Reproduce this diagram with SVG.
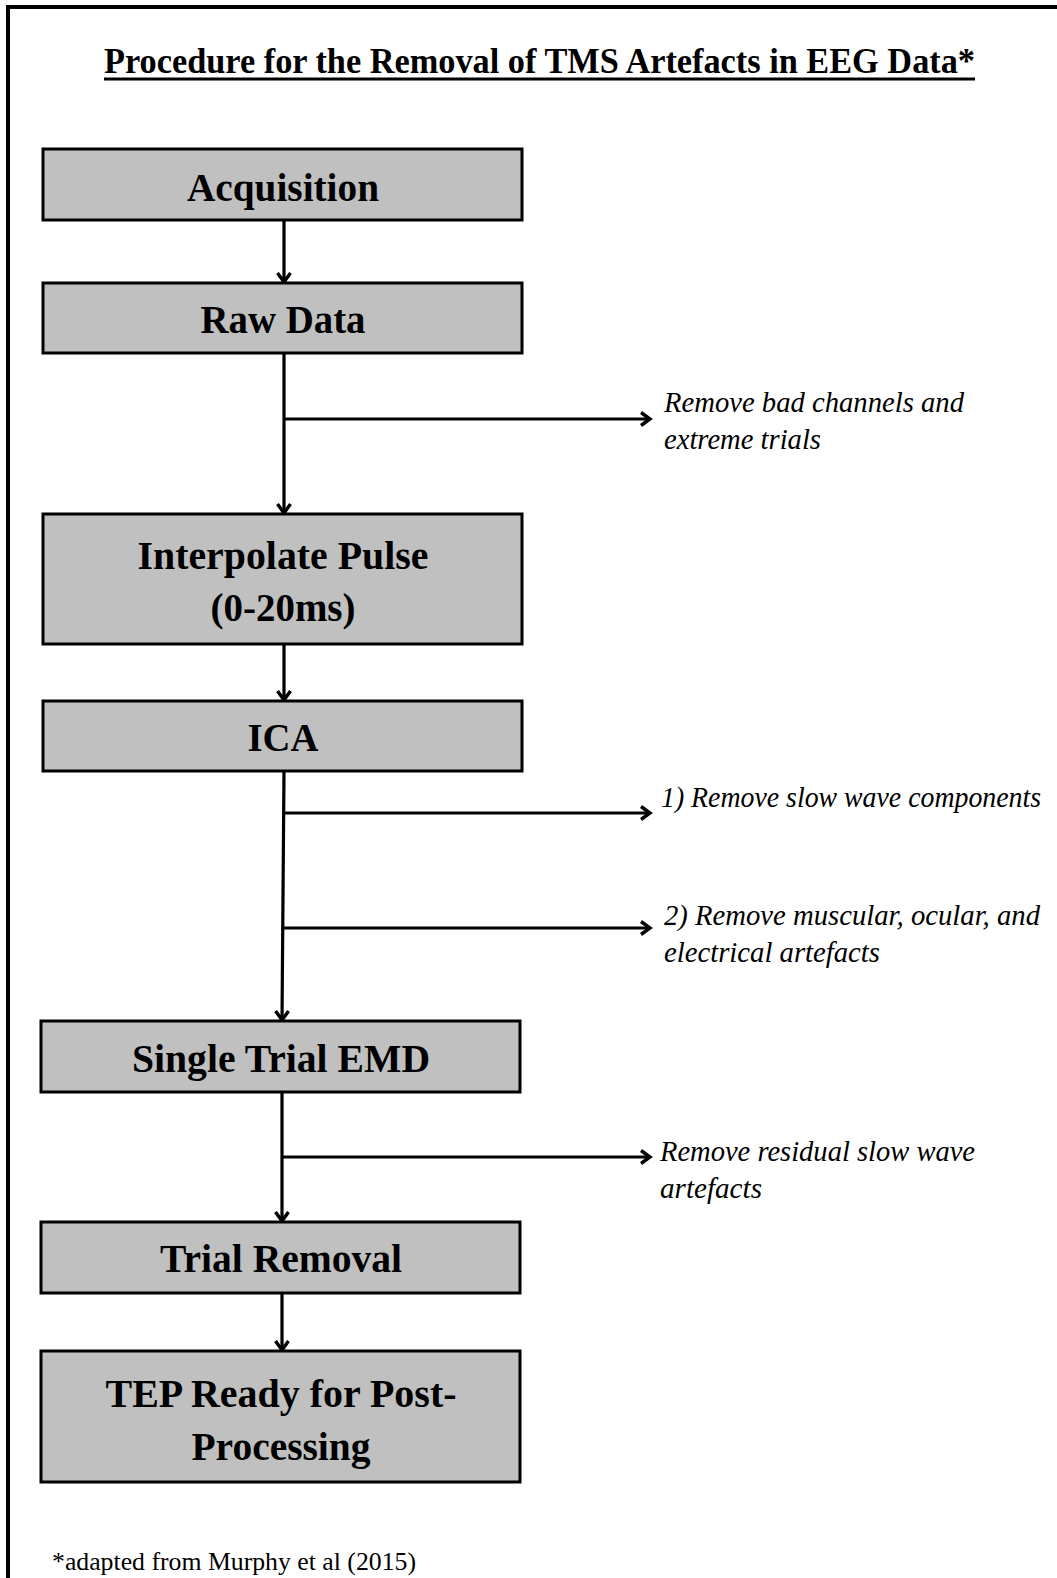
<svg xmlns="http://www.w3.org/2000/svg" width="1057" height="1578" viewBox="0 0 1057 1578">
<defs>
<style>
.box{fill:#c0c0c0;stroke:#000;stroke-width:3}
.lbl{font-family:"Liberation Serif","Times New Roman",serif;font-weight:bold;font-size:41px;fill:#000;text-anchor:middle}
.note{font-family:"Liberation Serif","Times New Roman",serif;font-style:italic;font-size:30px;fill:#000}
.ln{stroke:#000;stroke-width:3.2;fill:none}
</style>
<marker id="ah" viewBox="0 0 16 16" refX="13" refY="8" markerWidth="16" markerHeight="16" markerUnits="userSpaceOnUse" orient="auto">
<path d="M4,1.5 L13,8 L4,14.5" fill="none" stroke="#000" stroke-width="3.4"/>
</marker>
</defs>
<rect width="1057" height="1578" fill="#fff"/>
<path d="M8,1578 V7 H1057" fill="none" stroke="#000" stroke-width="4"/>
<g id="title">
<text x="104" y="73" font-family="Liberation Serif,serif" font-weight="bold" font-size="36" textLength="871" lengthAdjust="spacingAndGlyphs">Procedure for the Removal of TMS Artefacts in EEG Data*</text>
<rect x="104" y="77.5" width="871" height="3" fill="#000"/>
</g>
<g id="connectors">
<line class="ln" x1="284" y1="220" x2="284" y2="282" marker-end="url(#ah)"/>
<line class="ln" x1="284" y1="353" x2="284" y2="513" marker-end="url(#ah)"/>
<line class="ln" x1="284" y1="419" x2="650" y2="419" marker-end="url(#ah)"/>
<line class="ln" x1="284" y1="644" x2="284" y2="700" marker-end="url(#ah)"/>
<line class="ln" x1="284" y1="771" x2="282" y2="1020" marker-end="url(#ah)"/>
<line class="ln" x1="284" y1="813" x2="650" y2="813" marker-end="url(#ah)"/>
<line class="ln" x1="283" y1="928" x2="650" y2="928" marker-end="url(#ah)"/>
<line class="ln" x1="282" y1="1092" x2="282" y2="1221" marker-end="url(#ah)"/>
<line class="ln" x1="282" y1="1157" x2="650" y2="1157" marker-end="url(#ah)"/>
<line class="ln" x1="282" y1="1293" x2="282" y2="1350" marker-end="url(#ah)"/>
</g>
<g id="acquisition">
<rect class="box" x="43" y="149" width="479" height="71"/>
<text class="lbl" x="283" y="201" textLength="192" lengthAdjust="spacingAndGlyphs">Acquisition</text>
</g>
<g id="raw-data">
<rect class="box" x="43" y="283" width="479" height="70"/>
<text class="lbl" x="283" y="333" textLength="165" lengthAdjust="spacingAndGlyphs">Raw Data</text>
</g>
<g id="interpolate">
<rect class="box" x="43" y="514" width="479" height="130"/>
<text class="lbl" x="283" y="569" textLength="291" lengthAdjust="spacingAndGlyphs">Interpolate Pulse</text>
<text class="lbl" x="283" y="621" textLength="145" lengthAdjust="spacingAndGlyphs">(0-20ms)</text>
</g>
<g id="ica">
<rect class="box" x="43" y="701" width="479" height="70"/>
<text class="lbl" x="283" y="751" textLength="71" lengthAdjust="spacingAndGlyphs">ICA</text>
</g>
<g id="emd">
<rect class="box" x="41" y="1021" width="479" height="71"/>
<text class="lbl" x="281" y="1072" textLength="298" lengthAdjust="spacingAndGlyphs">Single Trial EMD</text>
</g>
<g id="trial-removal">
<rect class="box" x="41" y="1222" width="479" height="71"/>
<text class="lbl" x="281" y="1272" textLength="242" lengthAdjust="spacingAndGlyphs">Trial Removal</text>
</g>
<g id="tep">
<rect class="box" x="41" y="1351" width="479" height="131"/>
<text class="lbl" x="281" y="1407" textLength="351" lengthAdjust="spacingAndGlyphs">TEP Ready for Post-</text>
<text class="lbl" x="281" y="1460" textLength="179" lengthAdjust="spacingAndGlyphs">Processing</text>
</g>
<g id="notes">
<text class="note" x="664" y="412" textLength="300" lengthAdjust="spacingAndGlyphs">Remove bad channels and</text>
<text class="note" x="664" y="449" textLength="157" lengthAdjust="spacingAndGlyphs">extreme trials</text>
<text class="note" x="661" y="807" font-size="27" textLength="380" lengthAdjust="spacingAndGlyphs">1) Remove slow wave components</text>
<text class="note" x="664" y="925" textLength="376" lengthAdjust="spacingAndGlyphs">2) Remove muscular, ocular, and</text>
<text class="note" x="664" y="962" textLength="216" lengthAdjust="spacingAndGlyphs">electrical artefacts</text>
<text class="note" x="660" y="1161" textLength="315" lengthAdjust="spacingAndGlyphs">Remove residual slow wave</text>
<text class="note" x="660" y="1198" textLength="102" lengthAdjust="spacingAndGlyphs">artefacts</text>
</g>
<g id="footnote">
<text x="52" y="1570" font-family="Liberation Serif,serif" font-size="26" textLength="364" lengthAdjust="spacingAndGlyphs">*adapted from Murphy et al (2015)</text>
</g>
</svg>
